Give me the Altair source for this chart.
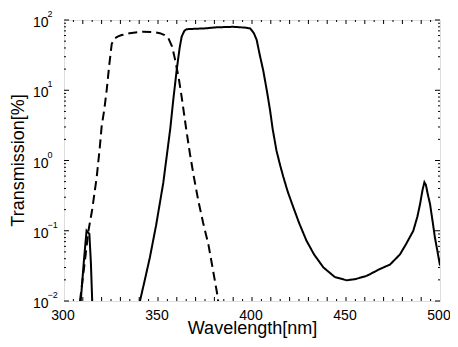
import altair as alt
import pandas as pd

# Solid curve: small peak near 312 nm
solid_peak_wl = [308.9, 310.5, 312.0, 312.7, 313.5, 314.3, 315.0]
solid_peak_t = [0.01, 0.035, 0.1, 0.095, 0.09, 0.035, 0.01]

# Solid curve: main band
solid_main_wl = [340.4, 343, 345.7, 349, 352.8, 356.5, 358.1, 359.9, 361.5, 362.6, 364, 365.2,
                 370, 375, 381, 390, 396, 399, 401, 402.5, 404, 406, 408, 409.6, 411, 413, 415,
                 416.7, 419, 422, 425, 429, 433, 438, 444, 450.4, 455, 461, 468, 473.4, 478.7,
                 482, 485.8, 488, 489.4, 490.7, 491.7, 492.5, 493.5, 494.7, 496, 497.3, 498.7, 500]
solid_main_t = [0.01, 0.02, 0.042, 0.12, 0.48, 2.8, 7.2, 19, 40, 58, 70, 74,
                75, 76, 78.6, 80, 78, 76, 65, 52, 33, 19, 9.5, 5.2, 2.8, 1.39, 0.85,
                0.58, 0.36, 0.215, 0.13, 0.072, 0.046, 0.030, 0.022, 0.0197, 0.0205, 0.0228, 0.0285, 0.033, 0.046,
                0.065, 0.1, 0.16, 0.24, 0.38, 0.49, 0.45, 0.33, 0.24, 0.14, 0.08, 0.05, 0.032]

# Dashed curve
dashed_wl = [308.5, 311, 313, 315, 317.4, 319, 320, 321.5, 322.7, 324, 325.4, 327, 328.5, 330.7,
             335, 342, 348, 351, 353.5, 355.5, 357.5, 359, 361, 362.6, 365, 367, 369, 371.4,
             374, 376.8, 379, 381.2, 382]
dashed_t = [0.01, 0.035, 0.1, 0.2, 0.58, 1.5, 3.0, 5.5, 10, 22, 46, 55, 58, 61,
            65, 68, 67, 65, 61, 55, 42, 28, 15, 8, 2.8, 1.24, 0.6, 0.27,
            0.13, 0.064, 0.03, 0.014, 0.01]

# Axis tick values
x_label_values = [300, 350, 400, 450, 500]
x_ticks_10 = [v for v in range(310, 500, 10)]
x_ticks_5 = [v for v in range(305, 500, 10)]
y_major = [0.01, 0.1, 1, 10, 100]
y_exponents = ["2", "1", "0", "\u22121", "\u22122"]
y_major_desc = [100, 10, 1, 0.1, 0.01]
y_minor = [m * 10.0 ** k for k in range(-2, 2) for m in range(2, 10)]

W, H = 376, 281
FONT = "Liberation Sans"


def seg(wl, t, name, style):
    return pd.DataFrame({"wl": wl, "t": t, "seg": name, "style": style})


lines = pd.concat([
    seg(solid_peak_wl, solid_peak_t, "a", "solid"),
    seg(solid_main_wl, solid_main_t, "b", "solid"),
    seg(dashed_wl, dashed_t, "c", "dashed"),
])

X = alt.X("wl:Q", scale=alt.Scale(domain=[300, 500], nice=False, zero=False),
          axis=alt.Axis(values=x_label_values, ticks=False, tickSize=0, domain=False, grid=False,
                        labelFontSize=14, labelPadding=7, labelFont=FONT, labelColor="black",
                        labelFlush=False, labelOffset=-1.5,
                        title="Wavelength[nm]", titleFontSize=18, titleFont=FONT,
                        titleFontWeight="normal", titleY=32, titleBaseline="alphabetic",
                        titleColor="black"))
Y = alt.Y("t:Q", scale=alt.Scale(type="log", domain=[0.01, 100], nice=False),
          axis=alt.Axis(labels=False, ticks=False, tickSize=0, domain=False, grid=False,
                        title="Transmission[%]", titleFontSize=18, titleFont=FONT,
                        titleFontWeight="normal", titleX=-41, titleY=140, titleAngle=270,
                        titleBaseline="alphabetic", titleAlign="center", titleColor="black"))

line_layer = alt.Chart(lines).mark_line(clip=True, strokeWidth=2, color="black").encode(
    x=X, y=Y, detail="seg:N",
    strokeDash=alt.StrokeDash("style:N", scale=alt.Scale(domain=["solid", "dashed"],
                                                         range=[[1, 0], [9, 5]]), legend=None),
)

x10 = pd.DataFrame({"wl": x_ticks_10})
x5 = pd.DataFrame({"wl": x_ticks_5})
ymaj = pd.DataFrame({"t": y_major})
ymin = pd.DataFrame({"t": y_minor})

tick_layers = []
for d, L in [(x10, 4), (x5, 2)]:
    tick_layers.append(alt.Chart(d).mark_rule(color="black", strokeWidth=1).encode(
        x=X, y=alt.value(H), y2=alt.value(H - L)))
    tick_layers.append(alt.Chart(d).mark_rule(color="black", strokeWidth=1).encode(
        x=X, y=alt.value(0), y2=alt.value(L)))
for d, L in [(ymaj, 5), (ymin, 2)]:
    tick_layers.append(alt.Chart(d).mark_rule(color="black", strokeWidth=1).encode(
        y=Y, x=alt.value(0), x2=alt.value(L)))
    tick_layers.append(alt.Chart(d).mark_rule(color="black", strokeWidth=1).encode(
        y=Y, x=alt.value(W), x2=alt.value(W - L)))

ylab = pd.DataFrame({"t": y_major_desc, "e": y_exponents})
base_txt = alt.Chart(ylab).mark_text(align="left", baseline="alphabetic", dy=7, fontSize=14,
                                     font=FONT, color="black").encode(
    y=Y, x=alt.value(-31), text=alt.value("10"))
exp_txt = alt.Chart(ylab).mark_text(align="left", baseline="alphabetic", dy=-3, fontSize=9,
                                    font=FONT, color="black").encode(
    y=Y, x=alt.value(-16.5), text="e:N")

chart = alt.layer(line_layer, *tick_layers, base_txt, exp_txt).properties(
    width=W, height=H,
    autosize=alt.AutoSizeParams(type="none"),
    padding={"left": 56, "top": 12, "right": 10, "bottom": 38},
).configure_view(stroke="black", strokeWidth=1).configure(font=FONT)

chart.save("out.html", embed_options={"renderer": "svg", "actions": False})
